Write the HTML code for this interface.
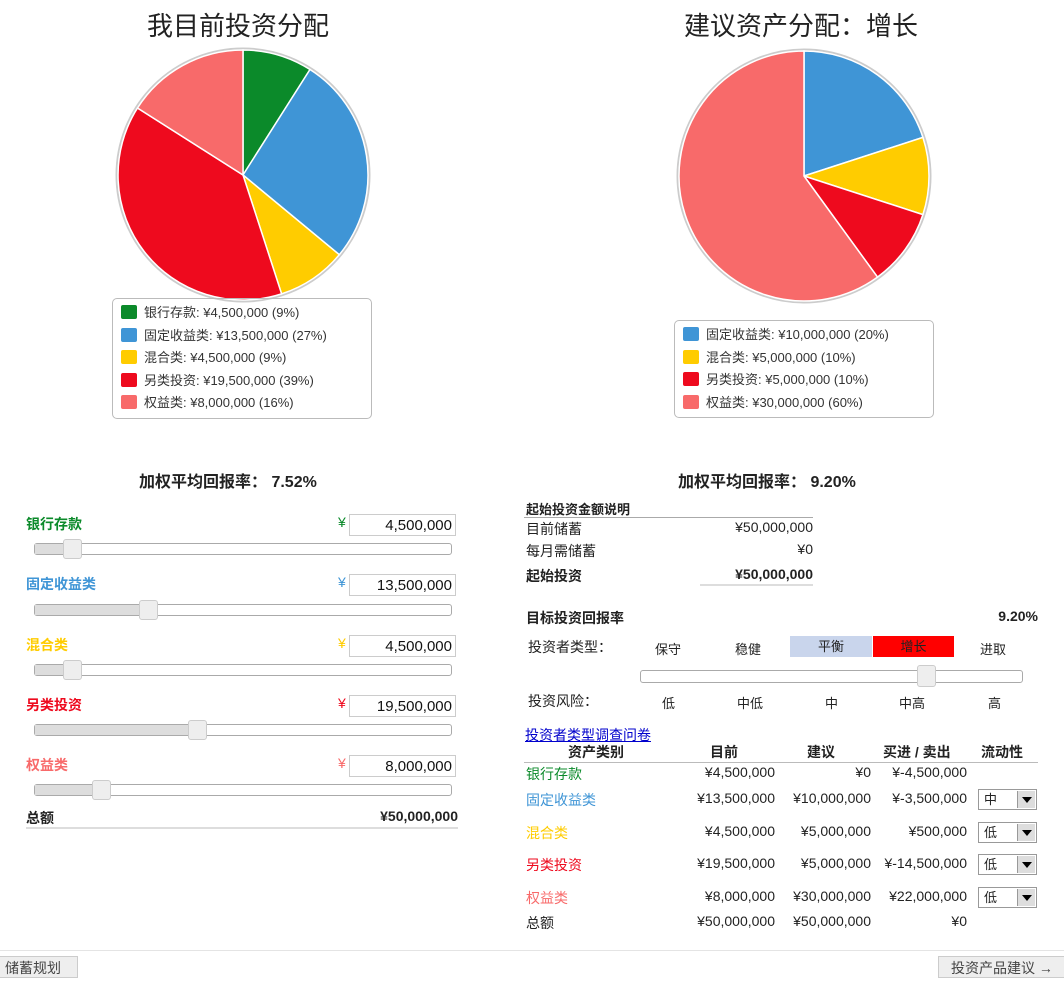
<!DOCTYPE html>
<html><head><meta charset="utf-8"><style>
body{margin:0;width:1064px;height:994px;background:#fff;position:relative;overflow:hidden;font-family:"Liberation Sans","Noto Sans CJK SC",sans-serif;color:#222}
.a{position:absolute;white-space:nowrap}
.t{font-size:26px;color:#222}
.lg{position:absolute;border:1px solid #bbb;border-radius:5px;font-size:13px;color:#333;line-height:22.6px;padding:3px 8px 3px 8px}
.sw{display:inline-block;width:16px;height:14px;border-radius:2px;vertical-align:-2px;margin-right:7px}
.lab{font-size:14px;font-weight:bold}
.inp{position:absolute;left:349px;width:107px;height:22px;border:1px solid #ccc;font-size:15px;text-align:right;line-height:22px;box-sizing:border-box;padding-right:3px;color:#111}
.yen{position:absolute;left:338px;font-size:14px}
.tr{position:absolute;left:34px;width:418px;height:12px;border:1px solid #aaa;border-radius:3px;background:#fff;box-sizing:border-box}
.fill{position:absolute;left:0;top:0;height:10px;background:#ddd}
.th{position:absolute;top:-5px;width:19px;height:20px;background:#eee;border:1px solid #ccc;border-radius:3px;box-sizing:border-box}
.r{position:absolute;font-size:14px;text-align:right;white-space:nowrap}
.sel{position:absolute;left:978px;width:59px;height:21px;border:1px solid #999;box-sizing:border-box;font-size:13px;line-height:19px;padding-left:5px;background:#fff}
.sel i{position:absolute;right:1px;top:1px;width:17px;height:17px;background:#ddd;border-left:1px solid #999}
.sel i:after{content:"";position:absolute;left:4px;top:6px;border-left:5px solid transparent;border-right:5px solid transparent;border-top:6px solid #000}
</style></head><body>
<div class="a t" style="left:147px;top:6px">我目前投资分配</div>
<div class="a t" style="left:684px;top:6px">建议资产分配：增长</div>
<svg class="a" style="left:0;top:0" width="1064" height="320">
<circle cx="243" cy="175" r="126.5" fill="none" stroke="#ccc" stroke-width="2"/>
<circle cx="804" cy="176" r="126.5" fill="none" stroke="#ccc" stroke-width="2"/>
<g stroke="#fff" stroke-width="1.5">
<path d="M243,175 L243,50 A125,125 0 0 1 310,69.5 Z" fill="#0b8a2a"/>
<path d="M243,175 L310,69.5 A125,125 0 0 1 339.3,254.7 Z" fill="#3f95d6"/>
<path d="M243,175 L339.3,254.7 A125,125 0 0 1 281.6,293.9 Z" fill="#ffcc00"/>
<path d="M243,175 L281.6,293.9 A125,125 0 0 1 137.5,108 Z" fill="#ee0a1e"/>
<path d="M243,175 L137.5,108 A125,125 0 0 1 243,50 Z" fill="#f86a6a"/>
<path d="M804,176 L804,51 A125,125 0 0 1 922.9,137.4 Z" fill="#3f95d6"/>
<path d="M804,176 L922.9,137.4 A125,125 0 0 1 922.9,214.6 Z" fill="#ffcc00"/>
<path d="M804,176 L922.9,214.6 A125,125 0 0 1 877.5,277.1 Z" fill="#ee0a1e"/>
<path d="M804,176 L877.5,277.1 A125,125 0 1 1 804,51 Z" fill="#f86a6a"/>
</g></svg>
<div class="lg" style="left:112px;top:298px;width:242px">
<div><span class="sw" style="background:#0b8a2a"></span>银行存款: ¥4,500,000 (9%)</div>
<div><span class="sw" style="background:#3f95d6"></span>固定收益类: ¥13,500,000 (27%)</div>
<div><span class="sw" style="background:#ffcc00"></span>混合类: ¥4,500,000 (9%)</div>
<div><span class="sw" style="background:#ee0a1e"></span>另类投资: ¥19,500,000 (39%)</div>
<div><span class="sw" style="background:#f86a6a"></span>权益类: ¥8,000,000 (16%)</div>
</div>
<div class="lg" style="left:674px;top:320px;width:242px">
<div><span class="sw" style="background:#3f95d6"></span>固定收益类: ¥10,000,000 (20%)</div>
<div><span class="sw" style="background:#ffcc00"></span>混合类: ¥5,000,000 (10%)</div>
<div><span class="sw" style="background:#ee0a1e"></span>另类投资: ¥5,000,000 (10%)</div>
<div><span class="sw" style="background:#f86a6a"></span>权益类: ¥30,000,000 (60%)</div>
</div>
<div class="a" style="left:139px;top:468px;font-size:16px;font-weight:bold">加权平均回报率： 7.52%</div>
<div class="a" style="left:678px;top:468px;font-size:16px;font-weight:bold">加权平均回报率： 9.20%</div>

<div class="a lab" style="left:26px;top:514px;color:#0b8a2a">银行存款</div>
<div class="yen" style="top:514px;color:#0b8a2a">¥</div><div class="inp" style="top:514px">4,500,000</div>
<div class="tr" style="top:543px"><div class="fill" style="width:30px"></div><div class="th" style="left:28px"></div></div>
<div class="a lab" style="left:26px;top:574px;color:#3f95d6">固定收益类</div>
<div class="yen" style="top:574px;color:#3f95d6">¥</div><div class="inp" style="top:574px">13,500,000</div>
<div class="tr" style="top:604px"><div class="fill" style="width:105px"></div><div class="th" style="left:104px"></div></div>
<div class="a lab" style="left:26px;top:635px;color:#ffcc00">混合类</div>
<div class="yen" style="top:635px;color:#ffcc00">¥</div><div class="inp" style="top:635px">4,500,000</div>
<div class="tr" style="top:664px"><div class="fill" style="width:30px"></div><div class="th" style="left:28px"></div></div>
<div class="a lab" style="left:26px;top:695px;color:#ee0a1e">另类投资</div>
<div class="yen" style="top:695px;color:#ee0a1e">¥</div><div class="inp" style="top:695px">19,500,000</div>
<div class="tr" style="top:724px"><div class="fill" style="width:155px"></div><div class="th" style="left:153px"></div></div>
<div class="a lab" style="left:26px;top:755px;color:#f86a6a">权益类</div>
<div class="yen" style="top:755px;color:#f86a6a">¥</div><div class="inp" style="top:755px">8,000,000</div>
<div class="tr" style="top:784px"><div class="fill" style="width:58px"></div><div class="th" style="left:57px"></div></div>
<div class="a lab" style="left:26px;top:808px">总额</div>
<div class="r" style="right:606px;top:808px;font-weight:bold">¥50,000,000</div>
<div class="a" style="left:26px;top:827px;width:432px;height:2px;background:#ddd"></div>

<div class="a" style="left:526px;top:499px;font-size:13px;font-weight:bold">起始投资金额说明</div>
<div class="a" style="left:524px;top:517px;width:289px;height:1px;background:#aaa"></div>
<div class="a" style="left:526px;top:519px;font-size:14px">目前储蓄</div><div class="r" style="right:251px;top:519px">¥50,000,000</div>
<div class="a" style="left:526px;top:541px;font-size:14px">每月需储蓄</div><div class="r" style="right:251px;top:541px">¥0</div>
<div class="a" style="left:526px;top:566px;font-size:14px;font-weight:bold">起始投资</div><div class="r" style="right:251px;top:566px;font-weight:bold">¥50,000,000</div>
<div class="a" style="left:700px;top:584px;width:113px;height:2px;background:#ddd"></div>
<div class="a" style="left:526px;top:608px;font-size:14px;font-weight:bold">目标投资回报率</div>
<div class="r" style="right:26px;top:608px;font-weight:bold">9.20%</div>
<div class="a" style="left:528px;top:637px;font-size:14px">投资者类型：</div>
<div class="a" style="left:655px;top:639px;font-size:13px">保守</div>
<div class="a" style="left:735px;top:639px;font-size:13px">稳健</div>
<div class="a" style="left:790px;top:636px;width:82px;height:21px;background:#c9d5ec;font-size:13px;text-align:center;line-height:21px">平衡</div>
<div class="a" style="left:873px;top:636px;width:81px;height:21px;background:#f00;font-size:13px;text-align:center;line-height:21px">增长</div>
<div class="a" style="left:980px;top:639px;font-size:13px">进取</div>
<div class="a" style="left:640px;top:670px;width:383px;height:13px;border:1px solid #aaa;border-radius:3px;box-sizing:border-box"></div>
<div class="a" style="left:917px;top:665px;width:19px;height:22px;background:#eee;border:1px solid #ccc;border-radius:3px;box-sizing:border-box"></div>
<div class="a" style="left:528px;top:691px;font-size:14px">投资风险：</div>
<div class="a" style="left:662px;top:693px;font-size:13px">低</div>
<div class="a" style="left:737px;top:693px;font-size:13px">中低</div>
<div class="a" style="left:825px;top:693px;font-size:13px">中</div>
<div class="a" style="left:899px;top:693px;font-size:13px">中高</div>
<div class="a" style="left:988px;top:693px;font-size:13px">高</div>
<div class="a" style="left:525px;top:725px;font-size:14px;color:#00c;text-decoration:underline">投资者类型调查问卷</div>

<div class="a" style="left:568px;top:742px;font-size:14px;font-weight:bold">资产类别</div>
<div class="a" style="left:710px;top:742px;font-size:14px;font-weight:bold">目前</div>
<div class="a" style="left:807px;top:742px;font-size:14px;font-weight:bold">建议</div>
<div class="a" style="left:883px;top:742px;font-size:14px;font-weight:bold">买进 / 卖出</div>
<div class="a" style="left:981px;top:742px;font-size:14px;font-weight:bold">流动性</div>
<div class="a" style="left:524px;top:762px;width:514px;height:1px;background:#bbb"></div>

<div class="a" style="left:526px;top:764px;font-size:14px;color:#0b8a2a">银行存款</div>
<div class="r" style="right:289px;top:764px">¥4,500,000</div><div class="r" style="right:193px;top:764px">¥0</div><div class="r" style="right:97px;top:764px">¥-4,500,000</div>
<div class="a" style="left:526px;top:790px;font-size:14px;color:#3f95d6">固定收益类</div>
<div class="r" style="right:289px;top:790px">¥13,500,000</div><div class="r" style="right:193px;top:790px">¥10,000,000</div><div class="r" style="right:97px;top:790px">¥-3,500,000</div>
<div class="sel" style="top:789px">中<i></i></div>
<div class="a" style="left:526px;top:823px;font-size:14px;color:#ffcc00">混合类</div>
<div class="r" style="right:289px;top:823px">¥4,500,000</div><div class="r" style="right:193px;top:823px">¥5,000,000</div><div class="r" style="right:97px;top:823px">¥500,000</div>
<div class="sel" style="top:822px">低<i></i></div>
<div class="a" style="left:526px;top:855px;font-size:14px;color:#ee0a1e">另类投资</div>
<div class="r" style="right:289px;top:855px">¥19,500,000</div><div class="r" style="right:193px;top:855px">¥5,000,000</div><div class="r" style="right:97px;top:855px">¥-14,500,000</div>
<div class="sel" style="top:854px">低<i></i></div>
<div class="a" style="left:526px;top:888px;font-size:14px;color:#f86a6a">权益类</div>
<div class="r" style="right:289px;top:888px">¥8,000,000</div><div class="r" style="right:193px;top:888px">¥30,000,000</div><div class="r" style="right:97px;top:888px">¥22,000,000</div>
<div class="sel" style="top:887px">低<i></i></div>
<div class="a" style="left:526px;top:913px;font-size:14px">总额</div>
<div class="r" style="right:289px;top:913px">¥50,000,000</div><div class="r" style="right:193px;top:913px">¥50,000,000</div><div class="r" style="right:97px;top:913px">¥0</div>

<div class="a" style="left:0;top:950px;width:1064px;height:1px;background:#e4e4e4"></div>
<div class="a" style="left:-4px;top:956px;width:82px;height:22px;border:1px solid #ccc;background:#eee;font-size:14px;line-height:22px;color:#444;padding-left:8px;box-sizing:border-box">储蓄规划</div>
<div class="a" style="left:938px;top:956px;width:130px;height:22px;border:1px solid #ccc;background:#eee;font-size:14px;line-height:22px;color:#444;padding-left:12px;box-sizing:border-box">投资产品建议 →</div>
</body></html>
